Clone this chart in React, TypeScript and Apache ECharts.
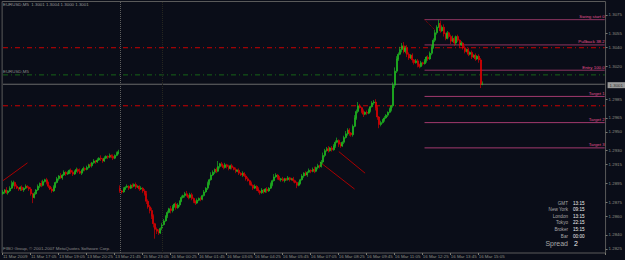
import React, { useEffect, useRef } from "react";
import * as echarts from "echarts";

// ---------- data ----------
const timeLabels = [
  "11 Mar 2009", "11 Mar 17:05", "13 Mar 19:05", "13 Mar 20:25", "13 Mar 21:45",
  "15 Mar 23:05", "16 Mar 00:25", "16 Mar 01:45", "16 Mar 03:05", "16 Mar 04:25",
  "16 Mar 05:45", "16 Mar 07:05", "16 Mar 08:25", "16 Mar 09:45", "16 Mar 11:05",
  "16 Mar 12:25", "16 Mar 13:45", "16 Mar 15:05",
];
const barsPerLabel = 16;
const slotCount = 345;

const basePrice = 1.28;
const firstOpenPips = 84;
const gapBarIndex = 67;
const gapOpenPips = 90;

// closes in pips above 1.2800
const closesPips = [
  86, 88, 85, 87, 90, 94, 96, 92, 90, 89,
  91, 88, 90, 92, 91, 89, 84, 80, 84, 88,
  92, 95, 93, 97, 99, 96, 92, 89, 87, 91,
  96, 100, 103, 101, 104, 107, 105, 106, 109, 107,
  105, 108, 110, 108, 106, 109, 111, 110, 112, 115,
  114, 117, 119, 118, 120, 122, 121, 119, 122, 124,
  123, 125, 124, 122, 125, 127, 129, 87, 86, 89,
  91, 92, 90, 93, 92, 94, 91, 92, 89, 90,
  87, 84, 76, 70, 66, 60, 52, 46, 44, 42,
  47, 51, 55, 60, 64, 68, 66, 70, 73, 69,
  72, 76, 80, 82, 84, 82, 80, 83, 79, 76,
  74, 77, 79, 78, 82, 86, 90, 95, 99, 104,
  107, 110, 108, 113, 116, 114, 112, 115, 113, 111,
  114, 112, 110, 108, 109, 106, 104, 106, 103, 100,
  98, 95, 93, 90, 92, 89, 87, 85, 88, 86,
  89, 87, 90, 94, 98, 102, 104, 101, 99, 100,
  98, 100, 99, 101, 99, 100, 98, 96, 93, 95,
  99, 103, 106, 104, 107, 109, 108, 110, 108, 112,
  114, 113, 118, 125, 130, 132, 130, 133, 131, 135,
  139, 141, 137, 135, 139, 144, 148, 152, 149, 147,
  156, 165, 172, 178, 176, 172, 169, 171, 170, 173,
  177, 181, 182, 176, 166, 158, 160, 163, 165, 168,
  171, 174, 178, 200, 215, 228, 233, 238, 242, 236,
  240, 233, 229, 232, 227, 224, 226, 222, 220, 224,
  223, 226, 230, 228, 234, 240, 248, 256, 262, 266,
  258, 262, 255, 250, 256, 252, 247, 250, 245, 252,
  248, 243, 245, 240, 236, 238, 233, 235, 230, 232,
  228, 231, 227, 201, 201,
];
const upWicks = [
  2, 1, 3, 1, 2, 4, 2, 1, 2, 1,
  1, 2, 1, 2, 1, 1, 2, 1, 2, 1,
  2, 1, 3, 2, 1, 2, 1, 1, 2, 2,
  1, 2, 1, 3, 1, 2, 1, 2, 1, 2,
  2, 1, 2, 1, 3, 1, 2, 1, 2, 1,
  2, 1, 2, 1, 2, 1, 3, 1, 2, 1,
  1, 2, 1, 2, 1, 2, 2, 3, 1, 2,
  1, 2, 1, 1, 2, 1, 2, 1, 1, 2,
  1, 2, 3, 2, 2, 3, 2, 1, 2, 2,
  1, 2, 2, 1, 2, 1, 3, 2, 1, 2,
  2, 1, 2, 1, 2, 3, 1, 2, 2, 1,
  1, 2, 1, 2, 1, 2, 1, 2, 1, 3,
  2, 1, 2, 6, 1, 2, 1, 2, 1, 2,
  1, 2, 1, 2, 1, 2, 1, 2, 1, 2,
  2, 1, 2, 1, 2, 1, 2, 1, 2, 1,
  1, 2, 1, 2, 1, 3, 2, 1, 2, 1,
  2, 1, 1, 2, 1, 1, 2, 1, 1, 2,
  1, 2, 1, 2, 1, 2, 1, 2, 3, 1,
  2, 1, 2, 3, 2, 2, 3, 1, 2, 2,
  2, 3, 1, 2, 1, 2, 3, 2, 2, 1,
  2, 3, 2, 4, 2, 1, 2, 1, 2, 2,
  1, 2, 2, 3, 2, 1, 2, 1, 2, 1,
  1, 2, 1, 3, 4, 3, 2, 3, 3, 4,
  2, 3, 2, 1, 2, 1, 2, 2, 1, 2,
  1, 2, 1, 2, 2, 3, 2, 3, 2, 4,
  3, 2, 3, 1, 2, 1, 2, 3, 2, 1,
  2, 1, 2, 1, 2, 1, 2, 1, 2, 1,
  2, 1, 2, 2, 3,
];
const downWicks = [
  1, 2, 1, 2, 1, 1, 2, 3, 1, 2,
  2, 1, 2, 1, 1, 2, 2, 6, 1, 1,
  1, 2, 2, 1, 1, 2, 2, 1, 2, 1,
  1, 1, 2, 1, 2, 1, 2, 1, 1, 2,
  2, 1, 1, 2, 1, 2, 1, 2, 1, 1,
  1, 2, 1, 2, 1, 1, 2, 2, 1, 1,
  2, 1, 2, 2, 1, 1, 1, 2, 2, 1,
  1, 1, 2, 1, 2, 1, 2, 1, 2, 1,
  2, 2, 3, 2, 3, 3, 4, 10, 3, 2,
  1, 2, 1, 1, 2, 1, 3, 2, 1, 2,
  1, 2, 1, 1, 2, 1, 2, 1, 2, 2,
  2, 1, 1, 2, 1, 1, 1, 2, 2, 1,
  1, 2, 2, 1, 2, 1, 2, 1, 2, 2,
  1, 2, 1, 2, 1, 2, 1, 2, 1, 2,
  1, 2, 1, 2, 1, 2, 2, 2, 1, 2,
  1, 2, 1, 1, 2, 1, 1, 2, 1, 2,
  1, 2, 1, 1, 2, 1, 2, 1, 3, 1,
  1, 1, 2, 1, 2, 1, 2, 1, 2, 1,
  2, 2, 1, 2, 2, 1, 2, 1, 2, 1,
  2, 1, 3, 2, 1, 2, 1, 2, 3, 2,
  2, 1, 2, 2, 1, 2, 3, 1, 2, 1,
  2, 1, 2, 3, 3, 4, 2, 1, 2, 1,
  2, 1, 2, 2, 3, 2, 2, 1, 3, 2,
  2, 3, 2, 1, 3, 2, 1, 3, 2, 1,
  2, 1, 2, 2, 1, 2, 1, 2, 2, 1,
  2, 1, 3, 2, 1, 2, 3, 1, 3, 2,
  2, 3, 1, 2, 2, 1, 2, 1, 2, 1,
  2, 1, 3, 4, 1,
];

const priceTicks = [
  1.3075, 1.3055, 1.304, 1.302, 1.2985, 1.2965, 1.295, 1.293,
  1.2915, 1.2895, 1.2875, 1.286, 1.284, 1.2825,
];
const priceMin = 1.28207;
const priceMax = 1.30894;

const fibStartIndex = 241;
const fibNames = ["Swing start 0", "Pullback 38.2", "Entry 100.0", "Target 1", "Target 2", "Target 3"];
const fibLevels = [1.307, 1.3043, 1.3016, 1.2988, 1.296, 1.2933];

const redLevels = [1.304, 1.2978];
const greenLevel = 1.3011;
const greenLevelName = "EURUSD,M5";
const bidPrice = 1.3001;
const separatorIndex = 67;
const newsLineIndex = 91;

const trendLines = [
  { from: [0, 1.2898], to: [14, 1.2917] },
  { from: [181, 1.2918], to: [201, 1.2889] },
  { from: [192, 1.2929], to: [207, 1.2906] },
];
const swingConnector = { from: [241, 1.307], to: [247, 1.3059] };

const headerText = "EURUSD,M5  1.3001 1.3004 1.3000 1.3001";
const footerText = "FIBO Group, \u00a9 2001-2007 MetaQuotes Software Corp.";
const sessionNames = ["GMT", "New York", "London", "Tokyo", "Broker", "Bar"];
const sessionTimes = ["13:15", "09:15", "13:15", "22:15", "15:15", "00:00"];
const spreadValue = "2";

// ---------- component ----------
export default function App() {
  const ref = useRef<HTMLDivElement>(null);

  useEffect(() => {
    if (!ref.current) return;
    const chart = echarts.init(ref.current, null, { renderer: "svg" });

    const toPrice = (p: number) => +(basePrice + p / 10000).toFixed(4);
    const slots = Array.from({ length: slotCount }, (_, i) => String(i));
    const lastSlot = slotCount - 1;
    const candles = closesPips.map((c, i) => {
      const o = i === 0 ? firstOpenPips : i === gapBarIndex ? gapOpenPips : closesPips[i - 1];
      const hi = Math.max(o, c) + upWicks[i];
      const lo = Math.min(o, c) - downWicks[i];
      return [toPrice(o), toPrice(c), toPrice(lo), toPrice(hi)];
    });
    const lastLabelIndex = (timeLabels.length - 1) * barsPerLabel;
    const showTick = (i: number) => i % barsPerLabel === 0 && i <= lastLabelIndex;
    const font = "'Liberation Sans', Arial, sans-serif";
    const small = 4.4;
    const dashDot = [5, 3, 1, 3];

    // straight segment drawn as a 2-point line series
    const segment = (
      a: number[],
      b: number[],
      color: string,
      type: any,
      endLabel?: { text: string; color: string; side: "left" | "right" }
    ) => {
      const labelCfg = endLabel
        ? {
            show: true,
            position: "top",
            align: endLabel.side === "right" ? "right" : "left",
            distance: 1,
            formatter: endLabel.text,
            color: endLabel.color,
            fontSize: small,
            fontFamily: font,
          }
        : { show: false };
      const p0: any = { value: a };
      const p1: any = { value: b };
      if (endLabel && endLabel.side === "left") p0.label = labelCfg;
      if (endLabel && endLabel.side === "right") p1.label = labelCfg;
      return {
        type: "line",
        data: [p0, p1],
        silent: true,
        showSymbol: true,
        symbol: "circle",
        symbolSize: 0,
        label: { show: false },
        lineStyle: { color, width: 1, type, opacity: 1 },
        itemStyle: { color },
        z: 1,
      };
    };

    const infoTexts: any[] = [];
    sessionNames.forEach((n, k) => {
      const y = 203 + k * 6.6;
      infoTexts.push({
        type: "text", x: 568, y,
        style: { text: n, fill: "#a8a8a8", fontSize: 4.6, fontFamily: font, align: "right", verticalAlign: "middle" },
      });
      infoTexts.push({
        type: "text", x: 573, y,
        style: { text: sessionTimes[k], fill: "#f0f0f0", fontSize: 4.6, fontFamily: font, align: "left", verticalAlign: "middle" },
      });
    });
    infoTexts.push({
      type: "text", x: 568, y: 243,
      style: { text: "Spread", fill: "#a8a8a8", fontSize: 7, fontFamily: font, align: "right", verticalAlign: "middle" },
    });
    infoTexts.push({
      type: "text", x: 574, y: 243,
      style: { text: spreadValue, fill: "#f0f0f0", fontSize: 7, fontFamily: font, align: "left", verticalAlign: "middle" },
    });
    infoTexts.push({
      type: "text", x: 3, y: 4.5,
      style: { text: headerText, fill: "#9a9a9a", fontSize: small, fontFamily: font, align: "left", verticalAlign: "middle" },
    });
    infoTexts.push({
      type: "text", x: 3, y: 248,
      style: { text: footerText, fill: "#8a8a8a", fontSize: small, fontFamily: font, align: "left", verticalAlign: "middle" },
    });

    const overlays: any[] = [];
    redLevels.forEach((lv) => overlays.push(segment([0, lv], [lastSlot, lv], "#cc0000", dashDot)));
    overlays.push(
      segment([0, greenLevel], [lastSlot, greenLevel], "#176417", dashDot, {
        text: greenLevelName, color: "#8a8a8a", side: "left",
      })
    );
    overlays.push(segment([0, bidPrice], [lastSlot, bidPrice], "#6a6a6a", "solid"));
    fibLevels.forEach((lv, k) =>
      overlays.push(
        segment([fibStartIndex, lv], [lastSlot, lv], k >= 3 ? "#a23a6e" : "#8e3562", "solid", {
          text: fibNames[k], color: "#e0508f", side: "right",
        })
      )
    );
    trendLines.forEach((t) => overlays.push(segment(t.from, t.to, "#a80000", "solid")));
    overlays.push(segment(swingConnector.from, swingConnector.to, "#a00000", "dotted"));

    chart.setOption({
      animation: false,
      backgroundColor: "#0a0d18",
      textStyle: { fontFamily: font },
      grid: {
        left: 1.5, right: 17, top: 1.5, bottom: 7,
        show: true, borderColor: "#5a5a5a", borderWidth: 1, backgroundColor: "transparent",
      },
      xAxis: {
        type: "category",
        data: slots,
        boundaryGap: true,
        axisLine: { show: false },
        axisTick: { show: true, interval: (i: number) => showTick(i), length: 2, lineStyle: { color: "#7a7a70" } },
        axisLabel: {
          interval: (i: number) => showTick(i),
          formatter: (_v: string, i: number) => timeLabels[i / barsPerLabel] ?? "",
          fontSize: small, color: "#8e8e84", align: "left", margin: 1.5, fontFamily: font,
        },
        splitLine: { show: false },
      },
      yAxis: {
        type: "value",
        position: "right",
        min: priceMin,
        max: priceMax,
        scale: true,
        axisLine: { show: false },
        axisTick: { show: true, customValues: priceTicks, length: 2, lineStyle: { color: "#7a7a70" } },
        axisLabel: {
          customValues: priceTicks,
          formatter: (v: number) => v.toFixed(4),
          fontSize: small, color: "#8e8e84", margin: 3, fontFamily: font,
        },
        splitLine: { show: false },
      },
      graphic: infoTexts,
      series: [
        {
          type: "line",
          data: [],
          silent: true,
          markLine: {
            silent: true,
            symbol: ["none", "none"],
            label: { show: false },
            lineStyle: { color: "#5e5e5e", width: 1, type: "dotted" },
            data: [{ xAxis: String(separatorIndex) }],
          },
        },
        {
          type: "line",
          data: [],
          silent: true,
          markLine: {
            silent: true,
            symbol: ["none", "none"],
            label: { show: false },
            lineStyle: { color: "#26261f", width: 1, type: "dotted" },
            data: [{ xAxis: String(newsLineIndex) }],
          },
        },
        {
          type: "line",
          data: [],
          silent: true,
          markLine: {
            silent: true,
            symbol: ["none", "none"],
            lineStyle: { color: "#6e6e6e", width: 0 },
            label: {
              show: true, position: "end", formatter: bidPrice.toFixed(4),
              color: "#333333", backgroundColor: "#9a9a9a", fontSize: small, fontFamily: font,
              padding: [1, 2, 1, 2], distance: 2,
            },
            data: [{ yAxis: bidPrice }],
          },
        },
        ...overlays,
        {
          type: "candlestick",
          data: candles,
          barWidth: 1.5,
          z: 3,
          itemStyle: {
            color: "#22c822",
            color0: "#ee0000",
            borderColor: "#22c822",
            borderColor0: "#ee0000",
            borderWidth: 0.6,
          },
        },
      ],
    });

    return () => chart.dispose();
  }, []);

  return (
    <div ref={ref} style={{ position: "fixed", left: 0, top: 0, width: 625, height: 260 }} />
  );
}
